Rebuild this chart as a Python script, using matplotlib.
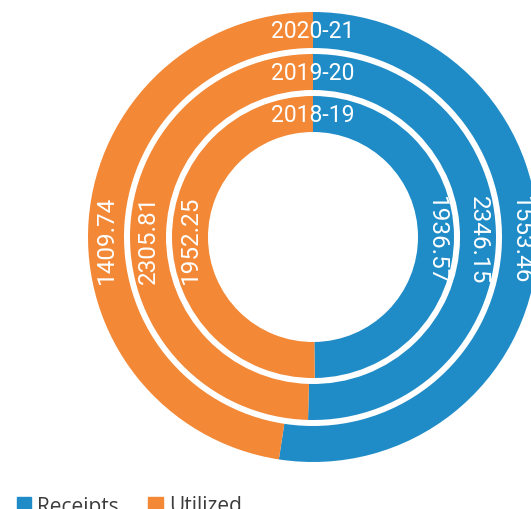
import matplotlib
matplotlib.use('Agg')
import matplotlib.pyplot as plt

# Receipts vs utilized, one ring per year (outer to inner)
years = ['2020-21', '2019-20', '2018-19']
receipts = [1553.46, 2346.15, 1936.57]
utilized = [1409.74, 2305.81, 1952.25]
series = ['Receipts', 'Utilized']
colors = ['#1f8cc8', '#f38836']

fig = plt.figure(figsize=(5.31, 5.10), dpi=100)
ax = fig.add_axes([0, 0, 1, 1])
ax.axis('off')

cx, cy = 313, 272
radii = [225, 183, 141]
width = 36

for year, rec, utl, r in zip(years, receipts, utilized, radii):
    ax.pie([rec, utl], colors=colors, radius=r, center=(cx, cy),
           startangle=90, counterclock=False,
           wedgeprops=dict(width=width, linewidth=0))
    mid = r - width / 2
    ax.text(cx, cy + mid, year, ha='center', va='center', color='white',
            fontsize=16.5, family='Roboto')
    ax.text(cx + mid, cy - 2, f'{rec:.2f}', ha='center', va='center', color='white',
            fontsize=17.5, family='Roboto', rotation=-90)
    ax.text(cx - mid, cy - 2, f'{utl:.2f}', ha='center', va='center', color='white',
            fontsize=17.5, family='Roboto', rotation=90)

ax.set_xlim(0, 531)
ax.set_ylim(0, 510)
ax.set_aspect('equal')

handles = [plt.Rectangle((0, 0), 1, 1, color=c) for c in colors]
fig.legend(handles, series, loc='center left', bbox_to_anchor=(17 / 531, 3 / 510),
           ncol=2, frameon=False, borderpad=0, borderaxespad=0,
           handlelength=0.68, handleheight=0.68, handletextpad=0.3,
           columnspacing=1.4, prop=dict(family='Open Sans', size=15),
           labelcolor='#3c3c3c')

fig.savefig('out.png', dpi=100)
